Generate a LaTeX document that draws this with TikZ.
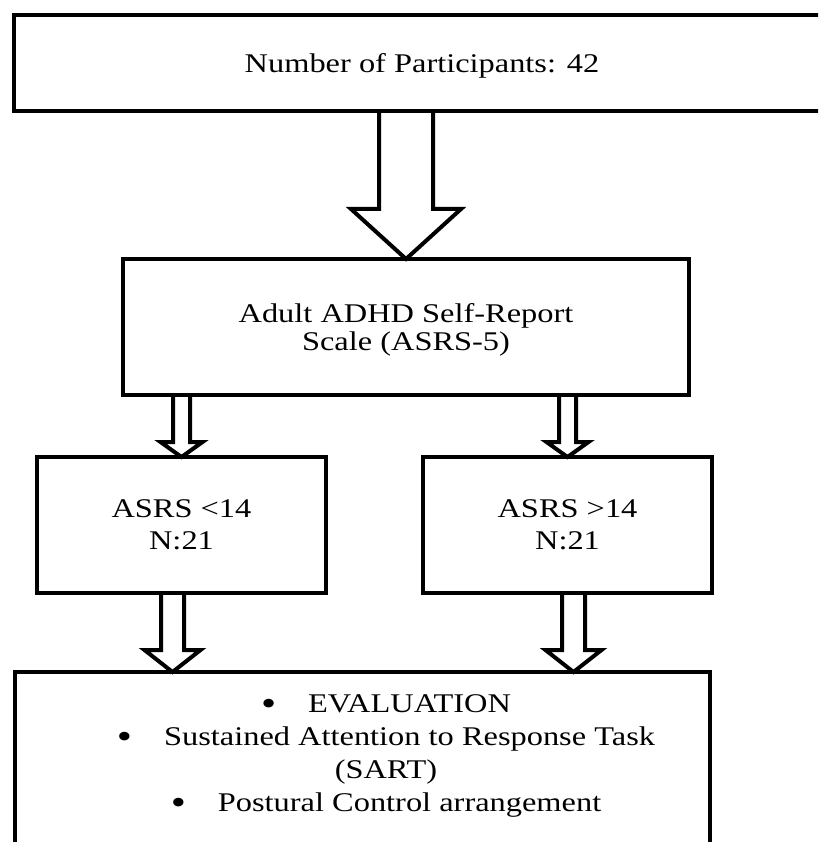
\documentclass[tikz,border=0pt]{standalone}
\usepackage{fontspec}
\setmainfont[FakeStretch=1.2]{Liberation Serif}
\usetikzlibrary{calc}

\newcommand{\evalbullet}{\raisebox{-2.5pt}{\fontsize{36}{33}\selectfont\textbullet}}
% hollow block arrow: from, to, shaft half width, head half width, head length
\newcommand{\hollowarrow}[5]{%
  \draw[arrowline] let \p1=(#1), \p2=(#2) in
    (\x1-#3,\y1) -- (\x1-#3,\y2+#5) -- (\x1-#4,\y2+#5) -- (\x2,\y2)
    -- (\x1+#4,\y2+#5) -- (\x1+#3,\y2+#5) -- (\x1+#3,\y1);}

\begin{document}
\begin{tikzpicture}[x=1pt,y=-1pt,
  box/.style={draw, line width=4.5pt, outer sep=0pt, inner sep=0pt, align=center,
    text depth=0pt, font=\fontsize{27}{28}\selectfont},
  arrowline/.style={line width=4pt}]
\clip (0,0) rectangle (818,842);

\node[box, minimum width=816pt, minimum height=96pt] (part) at (422,63) {Number of Participants: 42};
\node[box, minimum width=566pt, minimum height=136pt] (asrs) at (406,327) {Adult ADHD Self-Report\\Scale (ASRS-5)};
\node[box, minimum width=289pt, minimum height=136pt, font=\fontsize{27}{32}\selectfont] (low) at (181.5,525) {ASRS <14\\N:21};
\node[box, minimum width=289pt, minimum height=136pt, font=\fontsize{27}{32}\selectfont] (high) at (567.5,525) {ASRS >14\\N:21};
\node[box, minimum width=695pt, minimum height=260pt, anchor=north] (eval) at (362.5,672) {};
\node[align=center, inner sep=0pt, text depth=0pt, font=\fontsize{27}{33}\selectfont] (evaltext) at (386,753.5)
  {\evalbullet\hspace{32pt}EVALUATION\\
   \evalbullet\hspace{32pt}Sustained Attention to Response Task\\
   (SART)\\
   \evalbullet\hspace{32pt}Postural Control arrangement};

\hollowarrow{part.south -| asrs.north}{asrs.north}{27pt}{55pt}{50pt}
\hollowarrow{asrs.south -| low.north}{low.north}{8.5pt}{21pt}{15pt}
\hollowarrow{asrs.south -| high.north}{high.north}{8.5pt}{21pt}{15pt}
\coordinate (lowout) at ([xshift=-9pt]low.south);
\coordinate (highout) at ([xshift=6pt]high.south);
\hollowarrow{lowout}{lowout |- eval.north}{11.5pt}{28pt}{22pt}
\hollowarrow{highout}{highout |- eval.north}{11.5pt}{28pt}{22pt}
%\draw[red] (0,0) rectangle (818,842);
\end{tikzpicture}
\end{document}
